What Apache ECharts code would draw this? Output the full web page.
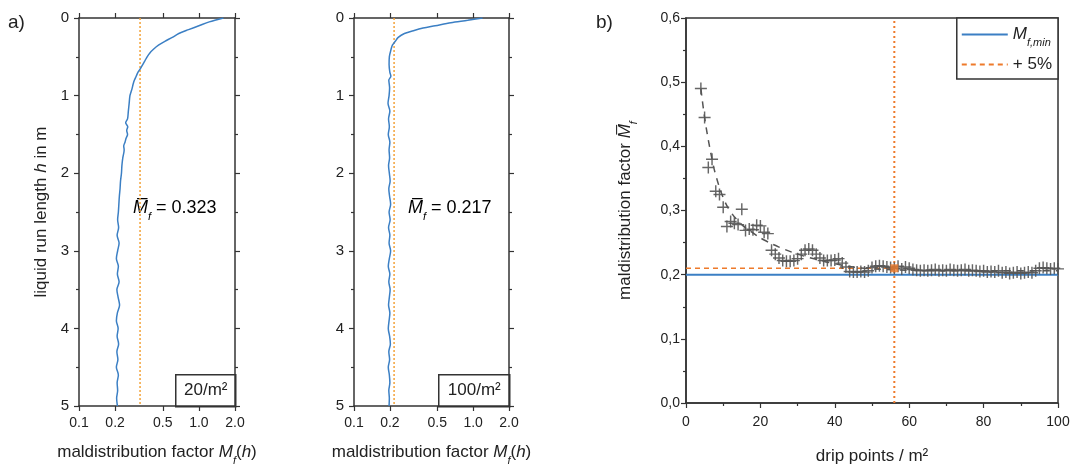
<!DOCTYPE html>
<html><head><meta charset="utf-8">
<script src="https://cdn.jsdelivr.net/npm/echarts@6/dist/echarts.min.js"></script>
<style>html,body{margin:0;padding:0;background:#fff}#c{width:1073px;height:467px}</style>
</head><body><div id="c"></div>
<script>
// ---- data ----
const H20 = [0,0.05,0.1,0.15,0.2,0.25,0.3,0.35,0.4,0.45,0.5,0.55,0.6,0.65,0.7,0.75,0.8,0.85,0.9,0.95,1.0,1.1,1.2,1.3,1.35,1.4,1.45,1.5,1.55,1.6,1.65,1.7,1.8,1.9,2.0,2.1,2.2,2.3,2.4,2.5,2.6,2.7,2.8,2.9,3.0,3.1,3.2,3.3,3.4,3.5,3.6,3.7,3.8,3.9,4.0,4.1,4.2,4.3,4.4,4.5,4.6,4.7,4.8,4.9,5.0];
const MF20 = [1.6,1.22,1.0,0.82,0.68,0.6,0.52,0.46,0.42,0.39,0.37,0.355,0.34,0.326,0.31,0.3,0.29,0.283,0.278,0.272,0.266,0.262,0.258,0.254,0.245,0.255,0.25,0.254,0.247,0.242,0.236,0.238,0.232,0.228,0.226,0.222,0.22,0.217,0.215,0.213,0.21,0.214,0.208,0.216,0.21,0.205,0.213,0.209,0.216,0.207,0.212,0.218,0.209,0.205,0.212,0.208,0.214,0.207,0.211,0.205,0.213,0.208,0.21,0.206,0.209];
const H100 = [0,0.03,0.06,0.1,0.13,0.16,0.2,0.25,0.3,0.35,0.4,0.5,0.6,0.7,0.75,0.8,0.9,1.0,1.1,1.2,1.3,1.4,1.5,1.6,1.7,1.8,1.9,2.0,2.1,2.2,2.3,2.4,2.5,2.6,2.7,2.8,2.9,3.0,3.1,3.2,3.3,3.4,3.5,3.6,3.7,3.8,3.9,4.0,4.1,4.2,4.3,4.4,4.5,4.6,4.7,4.8,4.9,5.0];
const MF100 = [1.2,0.9,0.65,0.48,0.38,0.32,0.265,0.235,0.222,0.21,0.205,0.198,0.197,0.2,0.204,0.196,0.199,0.197,0.193,0.2,0.195,0.198,0.194,0.2,0.197,0.199,0.195,0.198,0.201,0.196,0.199,0.203,0.197,0.201,0.195,0.2,0.197,0.203,0.198,0.194,0.2,0.196,0.201,0.198,0.195,0.2,0.197,0.194,0.199,0.202,0.196,0.199,0.194,0.198,0.2,0.196,0.198,0.197];
const MEAN20 = 0.323, MEAN100 = 0.217;
const LOG_TICKS = [0.1,0.2,0.5,1.0,2.0];

const DRIP = [4,5,6,7,8,9,10,11,12,13,14,15,16,17,18,19,20,21,22,23,24,25,26,27,28,29,30,31,32,33,34,35,36,37,38,39,40,41,42,43,44,45,46,47,48,49,50,51,52,53,54,55,56,57,58,59,60,61,62,63,64,65,66,67,68,69,70,71,72,73,74,75,76,77,78,79,80,81,82,83,84,85,86,87,88,89,90,91,92,93,94,95,96,97,98,99,100];
const MFBAR = [0.49,0.445,0.367,0.38,0.33,0.325,0.305,0.275,0.283,0.28,0.278,0.302,0.269,0.271,0.27,0.277,0.276,0.266,0.264,0.238,0.232,0.226,0.222,0.221,0.221,0.222,0.225,0.232,0.238,0.24,0.238,0.232,0.226,0.222,0.222,0.222,0.223,0.225,0.218,0.212,0.205,0.204,0.204,0.205,0.204,0.206,0.211,0.213,0.214,0.213,0.212,0.211,0.21,0.213,0.209,0.212,0.21,0.208,0.207,0.206,0.207,0.206,0.207,0.208,0.206,0.207,0.206,0.208,0.207,0.206,0.207,0.208,0.206,0.207,0.206,0.205,0.206,0.204,0.205,0.204,0.206,0.203,0.204,0.202,0.203,0.204,0.202,0.203,0.204,0.203,0.206,0.21,0.211,0.21,0.209,0.21,0.209];
const FIT_X = [4,5,6,7,8,10,12,15,18,21,25,30,35,40,45,50,60,80,100];
const FIT_Y = [0.49,0.445,0.41,0.38,0.355,0.32,0.298,0.278,0.265,0.254,0.243,0.232,0.224,0.217,0.212,0.209,0.207,0.206,0.206];
const MF_MIN = 0.2, PLUS5 = 0.21, OPT_DRIP = 56;

// ---- styles ----
const FONT = "'Liberation Sans', Arial, sans-serif";
const AX = '#333', TXT = '#222';
const BLUE = '#3b7fc4', ORANGE = '#ee7a2b', ORANGE_A = '#f3a33a', GREY = '#555';
const pair = (xs, ys) => xs.map((x, i) => [x, ys[i]]);
const pairY = (hs, vs) => hs.map((h, i) => [vs[i], h]);

const rich = {
  n: {fontSize: 17, fontFamily: FONT, color: TXT, lineHeight: 24, verticalAlign: 'middle'},
  i: {fontSize: 17, fontFamily: FONT, color: TXT, fontStyle: 'italic', lineHeight: 24, verticalAlign: 'middle'},
  s: {fontSize: 11, fontFamily: FONT, color: TXT, fontStyle: 'italic', lineHeight: 27, verticalAlign: 'bottom'}
};
const richBig = {
  n: {fontSize: 18, fontFamily: FONT, color: TXT, lineHeight: 24, verticalAlign: 'middle'},
  i: {fontSize: 18, fontFamily: FONT, color: TXT, fontStyle: 'italic', lineHeight: 24, verticalAlign: 'middle'},
  s: {fontSize: 11, fontFamily: FONT, color: TXT, fontStyle: 'italic', lineHeight: 28, verticalAlign: 'bottom'}
};

function logX(gi, top) {
  return {
    type: 'log', logBase: 10, gridIndex: gi, min: 0.1, max: 2, position: top ? 'top' : 'bottom',
    axisLine: {show: true, onZero: false, lineStyle: {color: AX, width: 1.5}},
    axisTick: {show: true, inside: false, length: 5, customValues: LOG_TICKS, lineStyle: {color: AX, width: 1.2}},
    axisLabel: {show: !top, customValues: LOG_TICKS, fontSize: 14, fontFamily: FONT, color: TXT, margin: 10,
      formatter: v => (Math.abs(v - 1) < 1e-9 || Math.abs(v - 2) < 1e-9) ? v.toFixed(1) : String(+v.toFixed(1))},
    splitLine: {show: false}, minorTick: {show: false},
    name: top ? '' : '{n|maldistribution factor }{i|M}{s|f}{n|(}{i|h}{n|)}',
    nameLocation: 'middle', nameGap: 33, nameTextStyle: {rich}
  };
}
function hY(gi, right, withName) {
  return {
    type: 'value', gridIndex: gi, min: 0, max: 5, interval: 1, inverse: true, position: right ? 'right' : 'left',
    axisLine: {show: true, onZero: false, lineStyle: {color: AX, width: 1.5}},
    axisTick: {show: true, length: 5, lineStyle: {color: AX, width: 1.2}},
    minorTick: {show: true, splitNumber: 2, length: 3, lineStyle: {color: AX, width: 1.2}},
    axisLabel: {show: !right, fontSize: 15, fontFamily: FONT, color: TXT, margin: 10},
    splitLine: {show: false},
    name: withName ? '{n|liquid run length }{i|h}{n| in m}' : '',
    nameLocation: 'middle', nameGap: 26, nameTextStyle: {rich}
  };
}
const GRID_BASE = {containLabel: false, outerBoundsMode: 'none'};

const option = {
  animation: false,
  backgroundColor: '#fff',
  textStyle: {fontFamily: FONT},
  grid: [
    Object.assign({left: 79, top: 18, width: 156, height: 388}, GRID_BASE),
    Object.assign({left: 354, top: 18, width: 155, height: 388}, GRID_BASE),
    Object.assign({left: 686, top: 18, width: 372, height: 385, show: true, borderColor: AX, borderWidth: 1.5}, GRID_BASE)
  ],
  xAxis: [
    logX(0, false), logX(0, true), logX(1, false), logX(1, true),
    {type: 'value', gridIndex: 2, min: 0, max: 100, interval: 20,
     axisLine: {show: true, onZero: false, lineStyle: {color: AX, width: 1.5}},
     axisTick: {show: true, length: 5, lineStyle: {color: AX, width: 1.2}},
     minorTick: {show: true, splitNumber: 2, length: 3, lineStyle: {color: AX, width: 1.2}},
     axisLabel: {fontSize: 14, fontFamily: FONT, color: TXT, margin: 12},
     splitLine: {show: false},
     name: '{n|drip points / m²}', nameLocation: 'middle', nameGap: 41, nameTextStyle: {rich}}
  ],
  yAxis: [
    hY(0, false, true), hY(0, true, false), hY(1, false, false), hY(1, true, false),
    {type: 'value', gridIndex: 2, min: 0, max: 0.6, interval: 0.1,
     axisLine: {show: true, onZero: false, lineStyle: {color: AX, width: 1.5}},
     axisTick: {show: true, length: 5, lineStyle: {color: AX, width: 1.2}},
     minorTick: {show: true, splitNumber: 2, length: 3, lineStyle: {color: AX, width: 1.2}},
     axisLabel: {fontSize: 14, fontFamily: FONT, color: TXT, margin: 6, formatter: v => v.toFixed(1).replace('.', ',')},
     splitLine: {show: false},
     name: '{n|maldistribution factor }{i|M\u0305}{s|f}', nameLocation: 'middle', nameGap: 47, nameTextStyle: {rich}}
  ],
  legend: {
    right: 15, top: 18, orient: 'vertical', itemWidth: 46, itemHeight: 10, itemGap: 8,
    padding: [8, 6, 6, 4], backgroundColor: '#fff', borderColor: AX, borderWidth: 1.5, borderRadius: 0,
    data: ['Mf,min', '+ 5%'],
    itemStyle: {opacity: 0},
    formatter: n => n === 'Mf,min' ? '{i|M}{s|f,min}' : '{n|' + n + '}',
    textStyle: {rich}
  },
  series: [
    {type: 'line', xAxisIndex: 0, yAxisIndex: 0, data: pairY(H20, MF20), showSymbol: false, smooth: 0.3,
     lineStyle: {color: BLUE, width: 1.5}, z: 3},
    {type: 'line', xAxisIndex: 0, yAxisIndex: 0, data: [[MEAN20, 0], [MEAN20, 5]], showSymbol: false,
     lineStyle: {color: ORANGE_A, width: 1.5, type: [2, 2]}, z: 2},
    {type: 'line', xAxisIndex: 2, yAxisIndex: 2, data: pairY(H100, MF100), showSymbol: false, smooth: 0.3,
     lineStyle: {color: BLUE, width: 1.5}, z: 3},
    {type: 'line', xAxisIndex: 2, yAxisIndex: 2, data: [[MEAN100, 0], [MEAN100, 5]], showSymbol: false,
     lineStyle: {color: ORANGE_A, width: 1.5, type: [2, 2]}, z: 2},
    // panel b
    {name: 'Mf,min', type: 'line', xAxisIndex: 4, yAxisIndex: 4, data: [[0, MF_MIN], [100, MF_MIN]],
     symbol: 'none', lineStyle: {color: BLUE, width: 2}, itemStyle: {color: BLUE}, z: 2},
    {name: '+ 5%', type: 'line', xAxisIndex: 4, yAxisIndex: 4, data: [[0, PLUS5], [OPT_DRIP, PLUS5]],
     symbol: 'none', lineStyle: {color: ORANGE, width: 1.5, type: [5, 4]}, itemStyle: {color: ORANGE}, z: 3},
    {type: 'line', xAxisIndex: 4, yAxisIndex: 4, data: [[OPT_DRIP, 0], [OPT_DRIP, 0.6]],
     symbol: 'none', lineStyle: {color: ORANGE, width: 2, type: [2, 3]}, z: 3},
    {type: 'line', xAxisIndex: 4, yAxisIndex: 4, data: pair(FIT_X, FIT_Y), symbol: 'none', smooth: 0.4,
     lineStyle: {color: GREY, width: 1.5, type: [7, 6]}, z: 4},
    {type: 'scatter', xAxisIndex: 4, yAxisIndex: 4, data: pair(DRIP, MFBAR),
     symbol: 'path://M4.4,0h1.2v4.4h4.4v1.2h-4.4v4.4h-1.2v-4.4h-4.4v-1.2h4.4z', symbolSize: 12,
     itemStyle: {color: GREY, opacity: 0.9}, z: 5},
    {type: 'scatter', xAxisIndex: 4, yAxisIndex: 4, data: [[OPT_DRIP, PLUS5]], symbol: 'rect', symbolSize: 8,
     itemStyle: {color: ORANGE}, z: 6}
  ],
  graphic: [
    {type: 'text', left: 8, top: 13, style: {text: 'a)', fontSize: 19, fontFamily: FONT, fill: TXT}},
    {type: 'text', left: 596, top: 13, style: {text: 'b)', fontSize: 19, fontFamily: FONT, fill: TXT}},
    {type: 'text', left: 133, top: 199, style: {text: '{i|M\u0305}{s|f}{n| = 0.323}', rich: richBig}},
    {type: 'text', left: 408, top: 199, style: {text: '{i|M\u0305}{s|f}{n| = 0.217}', rich: richBig}},
    {type: 'group', left: 175, top: 374, children: [
      {type: 'rect', shape: {x: 0, y: 0, width: 60, height: 32}, style: {fill: '#fff', stroke: AX, lineWidth: 1.5}},
      {type: 'text', x: 30, y: 16, style: {text: '20/m²', fontSize: 17, fontFamily: FONT, fill: TXT, align: 'center', verticalAlign: 'middle'}}
    ]},
    {type: 'group', left: 438, top: 374, children: [
      {type: 'rect', shape: {x: 0, y: 0, width: 71, height: 32}, style: {fill: '#fff', stroke: AX, lineWidth: 1.5}},
      {type: 'text', x: 35.5, y: 16, style: {text: '100/m²', fontSize: 17, fontFamily: FONT, fill: TXT, align: 'center', verticalAlign: 'middle'}}
    ]}
  ]
};
const chart = echarts.init(document.getElementById('c'), null, {renderer: 'canvas'});
chart.setOption(option);
</script>
</body></html>
